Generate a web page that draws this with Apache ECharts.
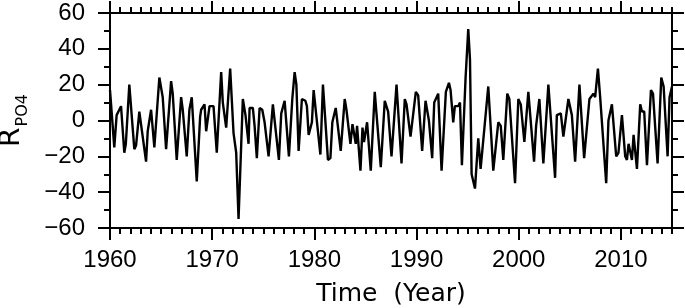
<!DOCTYPE html>
<html>
<head>
<meta charset="utf-8">
<script src="https://cdn.jsdelivr.net/npm/echarts@6/dist/echarts.min.js"></script>
<style>
    html, body {margin: 0; padding: 0; background: #fff;}
    #chart {width: 685px; height: 308px;}
</style>
</head>
<body>
<div id="chart"></div>
<script>
// ///////////////////////////////////////////
// data
var years = [
    1960.00, 1960.42, 1960.65, 1961.08, 1961.24, 1961.40, 1961.55, 1961.89, 1962.06, 1962.38,
    1962.55, 1962.87, 1963.04, 1963.20, 1963.53, 1963.69, 1963.85, 1964.02, 1964.18, 1964.34,
    1964.51, 1964.83, 1965.16, 1965.49, 1965.98, 1966.14, 1966.53, 1966.96, 1967.12, 1967.51,
    1967.77, 1968.00, 1968.17, 1968.49, 1968.82, 1968.92, 1969.25, 1969.41, 1969.57, 1969.74,
    1969.90, 1970.13, 1970.45, 1970.88, 1971.04, 1971.21, 1971.37, 1971.53, 1971.76, 1971.92,
    1972.09, 1972.35, 1972.58, 1973.00, 1973.26, 1973.33, 1973.56, 1973.66, 1973.98, 1974.15,
    1974.37, 1974.64, 1974.90, 1975.13, 1975.52, 1975.94, 1976.11, 1976.53, 1976.76, 1977.09,
    1977.25, 1977.51, 1977.84, 1978.07, 1978.24, 1978.46, 1978.63, 1978.78, 1979.12, 1979.27,
    1979.44, 1979.76, 1979.93, 1980.11, 1980.59, 1980.84, 1981.33, 1981.57, 1981.76, 1982.09,
    1982.58, 1982.97, 1983.14, 1983.53, 1983.73, 1983.88, 1984.05, 1984.18, 1984.51, 1984.71,
    1984.86, 1985.16, 1985.52, 1985.91, 1986.08, 1986.50, 1986.89, 1987.22, 1987.55, 1988.04,
    1988.53, 1988.85, 1989.02, 1989.18, 1989.41, 1989.93, 1990.16, 1990.55, 1990.88, 1991.21,
    1991.53, 1991.73, 1991.89, 1992.12, 1992.45, 1992.87, 1993.17, 1993.33, 1993.59, 1993.75,
    1994.08, 1994.25, 1994.44, 1994.80, 1995.06, 1995.23, 1995.39, 1995.55, 1995.72, 1996.04,
    1996.27, 1996.43, 1997.02, 1997.51, 1998.00, 1998.24, 1998.49, 1998.88, 1999.08, 1999.22,
    1999.64, 1999.96, 2000.20, 2000.55, 2000.94, 2001.50, 2001.70, 2001.82, 2002.02, 2002.41,
    2002.90, 2003.56, 2003.73, 2004.12, 2004.37, 2004.54, 2004.86, 2005.20, 2005.52, 2005.94,
    2006.08, 2006.40, 2006.92, 2007.09, 2007.31, 2007.48, 2007.75, 2007.97, 2008.14, 2008.56,
    2008.78, 2009.12, 2009.54, 2009.76, 2009.93, 2010.10, 2010.42, 2010.59, 2010.75, 2010.91,
    2011.08, 2011.24, 2011.57, 2011.89, 2012.06, 2012.28, 2012.55, 2012.94, 2013.14, 2013.59,
    2013.95, 2014.18, 2014.57, 2014.76, 2015.00
];
var rpo4 = [
    17, -15, 3, 8, 8, -18, -13, 20, 19, -16,
    -14, 5, 4, -9, -23, -6, -6, 6, 5, -15,
    -15, 24, 13, -16, 22, 15, -22, 13, 6, -20,
    6, 13, 12, -34, 2, 6, 9, -6, -7, 8,
    9, 8, -18, 27, 10, 9, -4, -4, 29, 28,
    -7, -18, -55, 12, 3, 4, -13, 7, 7, -3,
    -21, 7, 6, -1, -20, 9, 9, -22, 4, 11,
    10, -20, 12, 27, 20, -17, -17, 12, 11, 8,
    -8, -1, 17, 16, -19, 20, -22, -21, -1, 7,
    -17, 12, 6, -13, -2, -1, -13, -3, -28, -4,
    -12, -1, -28, 16, 16, -26, 11, 5, -20, 20,
    -24, 12, 9, 9, -9, 16, 14, -17, 11, 0,
    -21, 10, 9, 15, -28, 16, 21, 17, -1, 8,
    8, 10, -25, 24, 51, 34, -30, -31, -38, -10,
    -27, -28, 19, -28, -1, -3, -22, 15, 12, 13,
    -35, 12, 9, -12, 16, -23, -3, -4, 12, -24,
    20, -32, 3, 4, -9, -9, 12, 3, -23, 20,
    20, -21, 12, 11, 15, 13, 29, 13, 12, -35,
    0, 9, -20, -18, -19, 3, -20, -22, -13, -14,
    -22, -8, -27, 9, 5, 5, -25, 17, 15, -24,
    24, 19, -20, 13, 19
];

// tick labels
var xTicks = [1960, 1970, 1980, 1990, 2000, 2010];
var yTicks = [-60, -40, -20, 0, 20, 40, 60];


// ///////////////////////////////////////////
// echarts
var chart = echarts.init(document.getElementById('chart'));

var pairs = [];
for (var i = 0, len = years.length; i < len; i++) {
    pairs.push([years[i], rpo4[i]]);
}

var black = {color: '#000', width: 2};
var tickFont = 'Liberation Sans';
var nameFont = 'DejaVu Sans';

// x axes: bottom/top, major (decade) + minor (year)
var xAxis = function (pos, major, withLabel) {
    return {
        type: 'value',
        position: pos,
        min: 1960,
        max: 2015,
        interval: major ? 10 : 1,
        axisLine: {show: major, onZero: false, lineStyle: black},
        axisTick: major
            ? {show: true, inside: false, length: 12, lineStyle: black, customValues: xTicks}
            : {show: true, inside: false, length: 6, lineStyle: black},
        axisLabel: withLabel
            ? {show: true, customValues: xTicks, margin: 20, color: '#000',
               fontSize: 24, fontFamily: tickFont,
               formatter: function (v) { return String(v); }}
            : {show: false},
        splitLine: {show: false},
        name: withLabel ? 'Time  (Year)' : '',
        nameLocation: 'middle',
        nameGap: 54,
        nameTextStyle: {color: '#000', fontSize: 25, fontFamily: nameFont}
    };
};

var yAxis = function (pos, withLabel) {
    return {
        type: 'value',
        position: pos,
        min: yTicks[0],
        max: yTicks[yTicks.length - 1],
        interval: 20,
        axisLine: {show: true, onZero: false, lineStyle: black},
        axisTick: {show: true, inside: false, length: 12, lineStyle: black},
        minorTick: {show: true, splitNumber: 2, length: 6, lineStyle: black},
        axisLabel: withLabel
            ? {show: true, margin: 25, color: '#000', fontSize: 24, fontFamily: tickFont,
               formatter: function (v) { return String(v).replace('-', '\u2212'); }}
            : {show: false},
        splitLine: {show: false},
        minorSplitLine: {show: false},
        name: withLabel ? '{r|R}{s|PO4}' : '',
        nameLocation: 'middle',
        nameGap: 84,
        nameTextStyle: {
            color: '#000',
            rich: {
                r: {fontSize: 28, fontFamily: nameFont, lineHeight: 28, verticalAlign: 'top', color: '#000'},
                s: {fontSize: 16, fontFamily: nameFont, lineHeight: 16, verticalAlign: 'top',
                    padding: [17, 0, 0, 1], color: '#000'}
            }
        }
    };
};

chart.setOption({
    animation: false,
    backgroundColor: '#fff',
    grid: {left: 110, right: 13, top: 13, bottom: 80, containLabel: false, outerBoundsMode: 'none'},
    xAxis: [
        xAxis('bottom', true, true),
        xAxis('bottom', false, false),
        xAxis('top', true, false),
        xAxis('top', false, false)
    ],
    yAxis: [
        yAxis('left', true),
        yAxis('right', false)
    ],
    series: [{
        type: 'line',
        xAxisIndex: 0,
        yAxisIndex: 0,
        data: pairs,
        showSymbol: false,
        symbol: 'none',
        lineStyle: {color: '#000', width: 2.4}
    }]
});
</script>
</body>
</html>
